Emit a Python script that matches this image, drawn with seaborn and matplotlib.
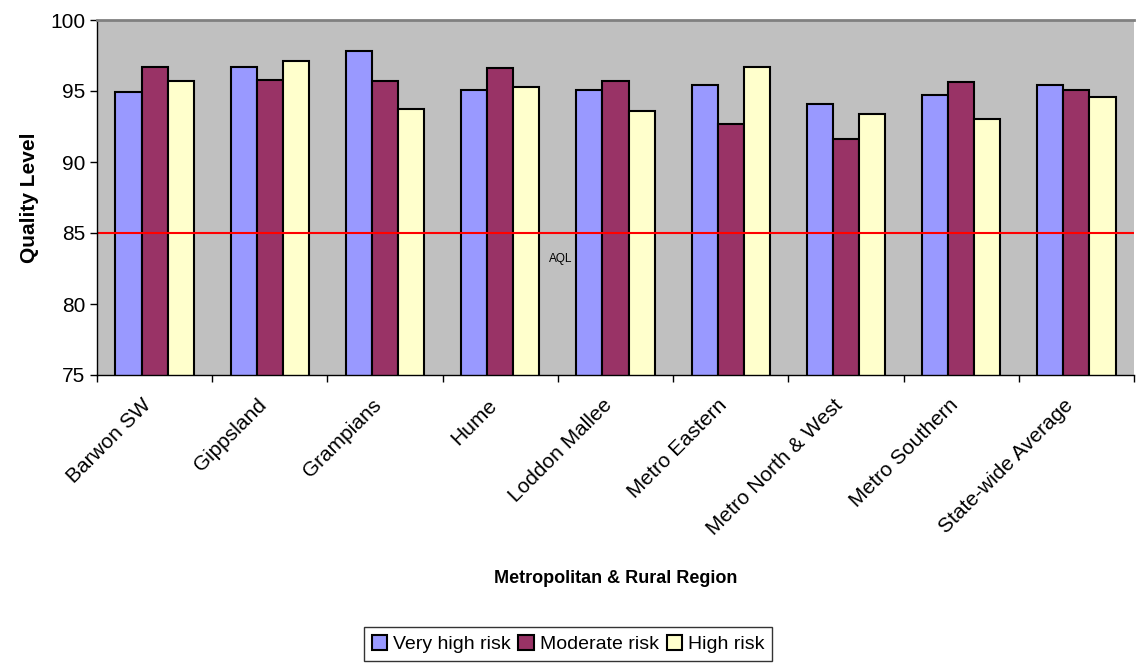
import pandas as pd
import numpy as np
import matplotlib
matplotlib.use('Agg')
import matplotlib.pyplot as plt
import matplotlib.transforms as mtransforms
import seaborn as sns

regions = ['Barwon SW', 'Gippsland', 'Grampians', 'Hume', 'Loddon Mallee',
           'Metro Eastern', 'Metro North & West', 'Metro Southern', 'State-wide Average']
very_high = [94.9, 96.7, 97.8, 95.1, 95.1, 95.4, 94.1, 94.7, 95.4]
moderate = [96.7, 95.8, 95.7, 96.6, 95.7, 92.7, 91.6, 95.6, 95.1]
high = [95.7, 97.1, 93.7, 95.3, 93.6, 96.7, 93.4, 93.0, 94.6]
series = ['Very high risk', 'Moderate risk', 'High risk']
colors = ['#9999FF', '#993366', '#FFFFCC']
aql = 85

data = pd.DataFrame({
    'region': regions * 3,
    'risk': [s for s in series for _ in regions],
    'value': very_high + moderate + high,
})

sns.set_style('white')
plt.rcParams['font.family'] = ['Liberation Sans', 'DejaVu Sans']
plt.rcParams['text.color'] = 'black'
plt.rcParams['axes.labelcolor'] = 'black'
plt.rcParams['xtick.color'] = 'black'
plt.rcParams['ytick.color'] = 'black'

fig = plt.figure(figsize=(11.39, 6.64), dpi=100)
ax = fig.add_axes([97 / 1139, 1 - 375 / 664, 1037 / 1139, 355 / 664])
ax.set_facecolor('#C0C0C0')

sns.barplot(data=data, x='region', y='value', hue='risk', order=regions,
            hue_order=series, palette=colors, saturation=1, width=0.68, ax=ax,
            edgecolor='black', linewidth=1.5, errorbar=None, legend=True)

ax.set_ylim(75, 100)
ax.set_xlim(-0.5, len(regions) - 0.5)
ax.set_yticks(range(75, 101, 5))
ax.tick_params(axis='y', labelsize=15, length=5, width=1, direction='out', left=True)

# category boundary ticks + centred labels
ax.set_xticks(np.arange(-0.5, len(regions), 1.0))
ax.set_xticklabels([])
ax.set_xticks(range(len(regions)), minor=True)
ax.set_xticklabels(regions, minor=True, rotation=45, ha='right', va='top', fontsize=15)
ax.tick_params(axis='x', which='major', length=5, width=1, bottom=True)
ax.tick_params(axis='x', which='minor', length=0, pad=4)
shift = mtransforms.ScaledTranslation(-13 / 100, -15 / 100, fig.dpi_scale_trans)
for lbl in ax.get_xticklabels(minor=True):
    lbl.set_rotation_mode('anchor')
    lbl.set_transform(lbl.get_transform() + shift)

ax.axhline(aql, color='red', linewidth=1.5)
ax.text(3.52, 83.2, 'AQL', ha='center', va='center', fontsize=8.5)

for side in ['left', 'bottom']:
    ax.spines[side].set_color('black')
    ax.spines[side].set_linewidth(1)
ax.spines['top'].set_color('#808080')
ax.spines['top'].set_linewidth(2)
ax.spines['right'].set_visible(False)

ax.set_xlabel('Metropolitan & Rural Region', fontsize=13, fontweight='bold')
ax.xaxis.set_label_coords(0.5, -0.55)
ax.set_ylabel('Quality Level', fontsize=15, fontweight='bold')
ax.yaxis.set_label_coords(-0.0564, 0.5)

handles, labels = ax.get_legend_handles_labels()
ax.legend_.remove()
leg = fig.legend(handles, labels, loc='center', bbox_to_anchor=(568 / 1139, 1 - 644 / 664),
                 ncol=3, fontsize=14, frameon=True, fancybox=False, edgecolor='black',
                 handlelength=0.8, handleheight=0.8, handletextpad=0.3, columnspacing=0.4,
                 borderpad=0.4)
leg.get_frame().set_linewidth(1)

fig.savefig('out.png', dpi=100)
